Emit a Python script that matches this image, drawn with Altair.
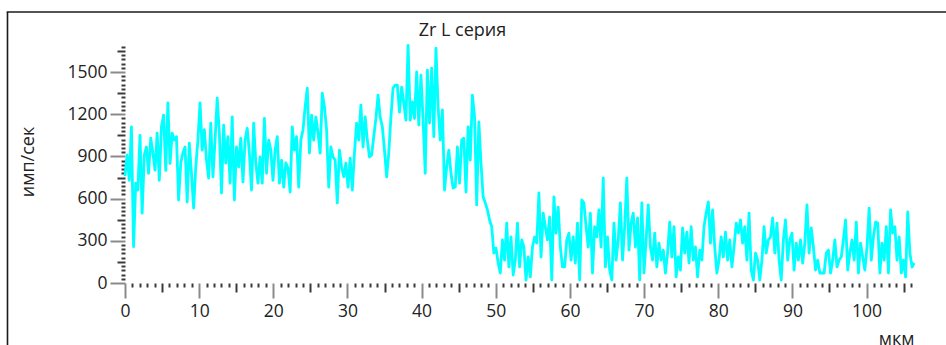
import altair as alt
import pandas as pd

# Scan step along the profile (µm) and count rates (имп/сек)
STEP_UM = 0.2892

SEG1 = [760, 910, 730, 1110, 258, 710, 660, 1050, 497, 910,
        967, 780, 1030, 924, 803, 1066, 730, 1110, 1194, 800,
        1280, 850, 1066, 1016, 1040, 590, 853, 924, 967, 576,
        995, 780, 533, 825, 1016, 1280, 945, 1090, 874, 746,
        1137, 755, 1016, 1315, 1066, 640, 1123, 853, 1040, 710,
        1180, 590, 967, 825, 1030, 718, 1016, 1100, 924, 660,
        1137, 853, 710, 896, 710, 1170, 780, 1016]
SEG2 = [945, 730, 945, 1040, 710, 874, 682, 853, 817, 647,
        1110, 945, 1040, 682, 1016, 1088, 1252, 1386, 924, 1194,
        1016, 1180, 1066, 924, 1350, 1252, 1088, 682, 967, 896,
        874, 570, 945, 825, 755, 853, 682, 888, 660, 924,
        1137, 1016, 1265, 967, 1180, 1016, 896, 910, 1040, 1170,
        1336, 1180, 1110, 945, 755, 924, 1180, 1386, 1407, 1407,
        1215, 1393, 1280, 1158, 1690, 1158, 1287, 1170, 1500, 1123,
        1477, 1158, 780, 1514, 1137, 1528, 1040]
SEG3 = [1670, 1252, 1016, 1230, 660, 825, 945, 780, 675, 682,
        967, 710, 1016, 1030, 647, 1110, 874, 1336, 1180, 555,
        1145, 853, 612, 570, 520, 448, 400, 213, 248, 142,
        71, 306, 163, 426, 114, 327, 57, 163, 426, 114,
        306, 256, 21, 185, 43, 256, 327, 284, 640, 185,
        497, 400, 306, 469, 21, 612, 355, 540, 256, 114,
        114, 306, 355, 163, 327, 142, 426, 21, 590, 570,
        400, 256, 497]
SEG4 = [71, 400, 327, 520, 256, 746, 114, 327, 92, 21,
        426, 163, 306, 570, 163, 400, 746, 234, 426, 497,
        256, 462, 21, 570, 71, 306, 555, 256, 163, 355,
        114, 284, 163, 234, 71, 213, 433, 185, 400, 43,
        185, 92, 391, 213, 362, 142, 400, 163, 256, 43,
        234, 163, 400, 497, 576, 284, 520, 256, 71, 163,
        327, 185, 362, 163, 306, 114, 256, 426, 355, 448,
        284, 400, 163, 497]
SEG5 = [92, 21, 213, 163, 21, 163, 400, 213, 306, 327,
        462, 213, 426, 163, 21, 306, 448, 163, 306, 355,
        92, 284, 163, 306, 142, 284, 555, 213, 391, 256,
        92, 163, 71, 71, 71, 213, 234, 71, 163, 306,
        114, 163, 185, 306, 448, 92, 213, 306, 163, 433,
        71, 284, 185, 92, 256, 533, 163, 327, 433, 426,
        71, 284, 163, 400, 71, 520, 355, 400, 163, 327,
        71, 163, 43, 505, 213, 114, 142]

COUNTS = SEG1 + SEG2 + SEG3 + SEG4 + SEG5
X_TICKS = list(range(0, 107))          # every 1 µm, labels every 10
Y_TICKS = list(range(0, 1681, 30))     # every 30, labels every 300

TITLE = "Zr L серия"
X_TITLE = "мкм"
Y_TITLE = "имп/сек"

df = pd.DataFrame({
    "x": [round(i * STEP_UM, 4) for i in range(len(COUNTS))],
    "y": COUNTS,
})

FONT = "Open Sans"
TXT = "#222222"

x_axis = alt.Axis(
    values=X_TICKS, domain=False, grid=False, format="d",
    labelExpr="datum.value % 10 === 0 ? datum.label : ''",
    tickSize={"condition": [{"test": "datum.value % 10 === 0", "value": 15},
                            {"test": "datum.value % 5 === 0", "value": 9}],
              "value": 4},
    tickColor={"condition": {"test": "datum.value % 10 === 0", "value": "#8a8a8a"},
               "value": "#3a3a3a"},
    tickWidth=2,
    labelFont=FONT, labelFontSize=17.5, labelColor=TXT, labelPadding=4,
    labelFlush=False, labelOverlap=False, labelBound=False,
    title=X_TITLE, titleFont=FONT, titleFontSize=18, titleFontWeight="normal",
    titleColor=TXT, titleAnchor="end", titleAlign="right",
    titleX=789, titleY=61, titleBaseline="alphabetic",
)

y_axis = alt.Axis(
    values=Y_TICKS, domain=False, grid=False, format="d",
    labelExpr="datum.value % 300 === 0 ? datum.label : ''",
    tickSize={"condition": [{"test": "datum.value % 300 === 0", "value": 15},
                            {"test": "datum.value % 150 === 0", "value": 8}],
              "value": 4},
    tickColor={"condition": {"test": "datum.value % 300 === 0", "value": "#8a8a8a"},
               "value": "#3a3a3a"},
    tickWidth=2,
    labelFont=FONT, labelFontSize=17.5, labelColor=TXT, labelPadding=3,
    labelFlush=False, labelOverlap=False, labelBound=False,
    title=Y_TITLE, titleFont=FONT, titleFontSize=18, titleFontWeight="normal",
    titleColor=TXT, titleAngle=270, titleAlign="center", titleBaseline="alphabetic",
    titleX=-92, titleY=116.5,
)

line = alt.Chart(df).mark_line(color="#00FFFF", strokeWidth=2.8, strokeJoin="round").encode(
    x=alt.X("x:Q", scale=alt.Scale(domain=[0, 106.4], nice=False, zero=False), axis=x_axis),
    y=alt.Y("y:Q", scale=alt.Scale(domain=[0, 1692], nice=False), axis=y_axis),
)

frame_data = alt.Data(values=[{"k": 0}])
frame_left = alt.Chart(frame_data).mark_rule(color="#1a1a1a", strokeWidth=1.6).encode(
    x=alt.value(-117.5), y=alt.value(-33), y2=alt.value(300)
)
frame_top = alt.Chart(frame_data).mark_rule(color="#1a1a1a", strokeWidth=1.6).encode(
    x=alt.value(-118.3), x2=alt.value(821), y=alt.value(-33)
)

# The frame rules extend the bounds upward, so the title offset is negative
# to bring its baseline back to ~12 px above the plot area.
chart = alt.layer(line, frame_left, frame_top).properties(
    width=789, height=238,
    title=alt.TitleParams(TITLE, font=FONT, fontSize=18, fontWeight="normal", color=TXT,
                          anchor="middle", frame="group", dx=-57, offset=-43,
                          baseline="alphabetic"),
    autosize=alt.AutoSizeParams(type="none"),
    padding={"left": 125, "top": 45, "right": 32, "bottom": 62},
    background="white",
).configure_view(stroke=None)

chart.save("out.html", embed_options={"renderer": "svg", "actions": False})
